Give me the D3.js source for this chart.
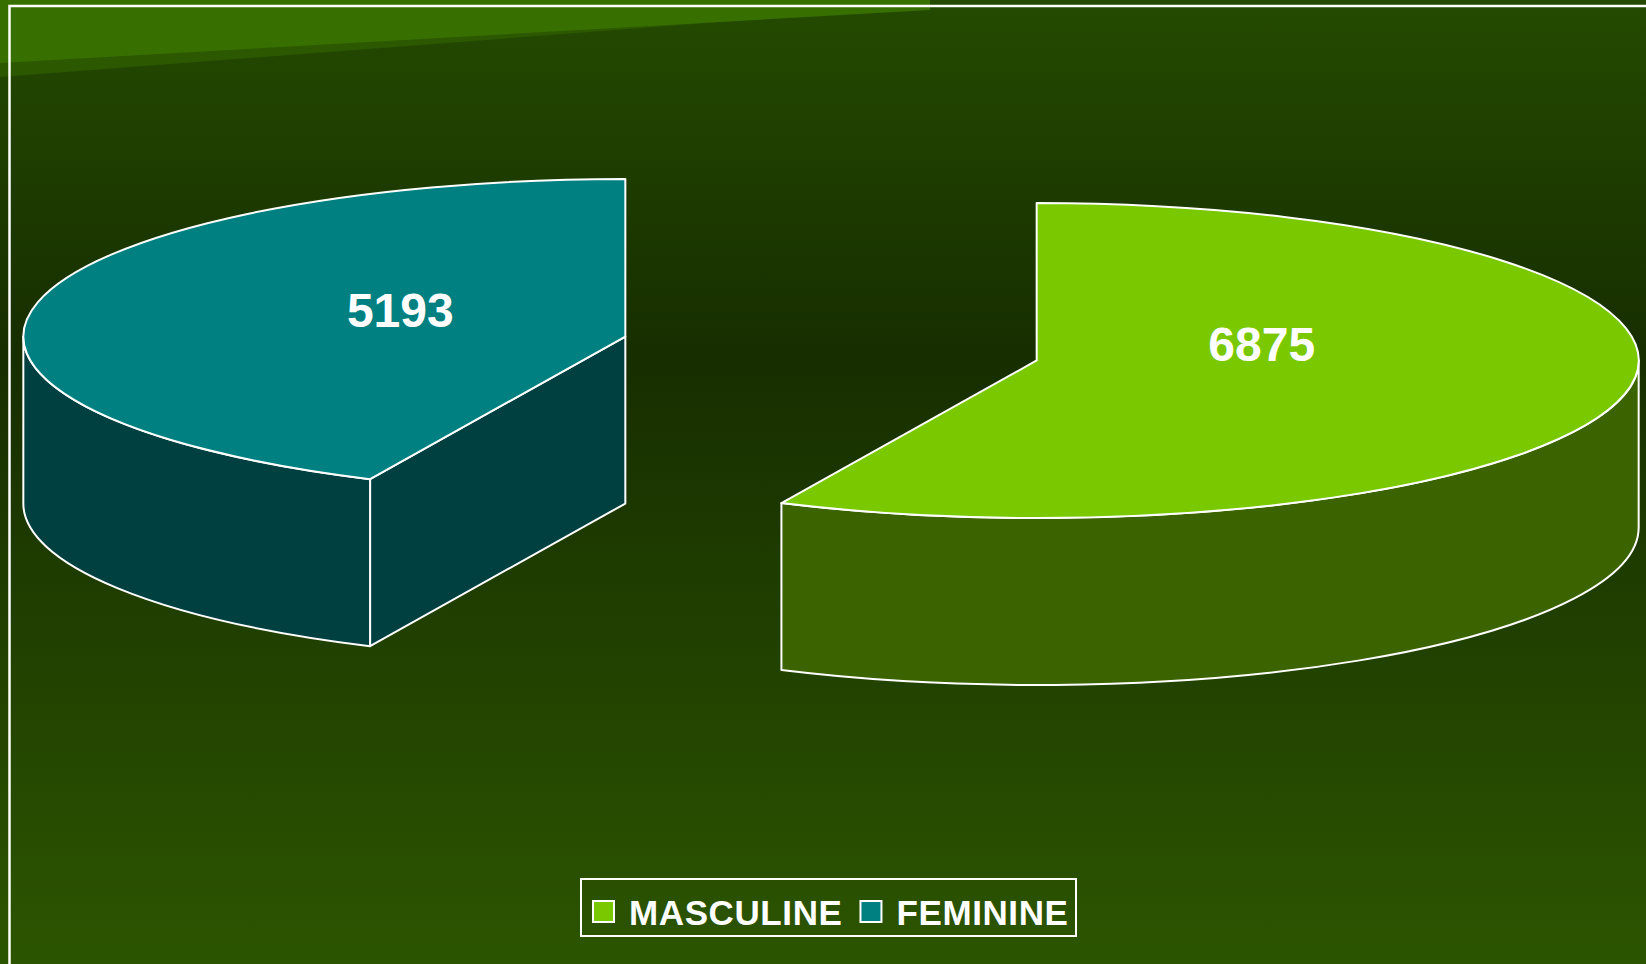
<!DOCTYPE html>
<html>
<head>
<meta charset="utf-8">
<script src="https://cdn.jsdelivr.net/npm/d3@7"></script>
<style>
  html, body { margin: 0; padding: 0; background: #1d3a00; overflow: hidden; }
  svg { display: block; }
</style>
</head>
<body>
<div id="chart"></div>
<script>
// data
const categories = ["MASCULINE", "FEMININE"];
const values = [6875, 5193];
const topColors = ["#79c800", "#008080"];
const sideColors = ["#3b6400", "#004040"];

const width = 1646, height = 964;

const dims = {
  cx: 831,
  cy: 348.5,
  rx: 602,
  ry: 157.5,
  depth: 167,
  explode: 0.35
};

const svg = d3.select("#chart")
  .append("svg")
    .attr("width", width)
    .attr("height", height);

// background
const defs = svg.append("defs");
const grad = defs.append("linearGradient")
  .attr("id", "bg")
  .attr("x1", 0).attr("y1", 0).attr("x2", 0).attr("y2", 1);
grad.append("stop").attr("offset", "0%").attr("stop-color", "#244a00");
grad.append("stop").attr("offset", "37%").attr("stop-color", "#172e00");
grad.append("stop").attr("offset", "100%").attr("stop-color", "#2c5500");

svg.append("rect")
  .attr("width", width).attr("height", height)
  .attr("fill", "url(#bg)");

// banner stripes top left
svg.append("polygon")
  .attr("points", "0,0 880,10 0,77")
  .attr("fill", "#2c5800");
svg.append("polygon")
  .attr("points", "0,0 930,0 930,10 0,63")
  .attr("fill", "#387000");

// frame line
svg.append("rect")
  .attr("x", 9.5).attr("y", 6)
  .attr("width", width + 20).attr("height", height + 20)
  .attr("fill", "none")
  .attr("stroke", "#ffffff")
  .attr("stroke-width", 2.5);

// pie layout (angles clockwise from 12 o'clock)
const pie = d3.pie().sort(null).value(d => d.value);
const arcs = pie(categories.map((c, i) => ({ name: c, value: values[i], i })));

const pt = (c, a) => [c[0] + dims.rx * Math.sin(a), c[1] - dims.ry * Math.cos(a)];

const bounds = svg.append("g");

arcs.forEach(s => {
  const i = s.data.i;
  const mid = (s.startAngle + s.endAngle) / 2;
  const c = [
    dims.cx + dims.explode * dims.rx * Math.sin(mid),
    dims.cy - dims.explode * dims.ry * Math.cos(mid)
  ];
  const g = bounds.append("g");
  const D = dims.depth;

  // radial faces, only those turned towards the viewer
  if (Math.sin(s.startAngle) < -1e-6) {
    const p = pt(c, s.startAngle);
    g.append("path")
      .attr("d", `M${c[0]},${c[1]}L${p[0]},${p[1]}L${p[0]},${p[1] + D}L${c[0]},${c[1] + D}Z`)
      .attr("fill", sideColors[i]);
  }
  if (Math.sin(s.endAngle) > 1e-6) {
    const p = pt(c, s.endAngle);
    g.append("path")
      .attr("d", `M${c[0]},${c[1]}L${p[0]},${p[1]}L${p[0]},${p[1] + D}L${c[0]},${c[1] + D}Z`)
      .attr("fill", sideColors[i]);
  }

  // outer wall, front half only (90deg .. 270deg)
  const a0 = Math.max(s.startAngle, Math.PI / 2);
  const a1 = Math.min(s.endAngle, Math.PI * 1.5);
  if (a1 > a0) {
    const p0 = pt(c, a0), p1 = pt(c, a1);
    const large = (a1 - a0) > Math.PI ? 1 : 0;
    g.append("path")
      .attr("d",
        `M${p0[0]},${p0[1]}` +
        `A${dims.rx},${dims.ry} 0 ${large} 1 ${p1[0]},${p1[1]}` +
        `L${p1[0]},${p1[1] + D}` +
        `A${dims.rx},${dims.ry} 0 ${large} 0 ${p0[0]},${p0[1] + D}Z`)
      .attr("fill", sideColors[i]);
  }

  g.selectAll("path")
    .attr("stroke", "#ffffff")
    .attr("stroke-width", 2)
    .attr("stroke-linejoin", "round");

  // top
  const q0 = pt(c, s.startAngle), q1 = pt(c, s.endAngle);
  const largeTop = (s.endAngle - s.startAngle) > Math.PI ? 1 : 0;
  g.append("path")
    .attr("d",
      `M${c[0]},${c[1]}L${q0[0]},${q0[1]}` +
      `A${dims.rx},${dims.ry} 0 ${largeTop} 1 ${q1[0]},${q1[1]}Z`)
    .attr("fill", topColors[i])
    .attr("stroke", "#ffffff")
    .attr("stroke-width", 2)
    .attr("stroke-linejoin", "round");

  // value label
  g.append("text")
    .attr("x", c[0] + 0.383 * dims.rx * Math.sin(mid))
    .attr("y", c[1] - 0.155 * dims.ry * Math.cos(mid) - 21)
    .attr("text-anchor", "middle")
    .attr("dominant-baseline", "central")
    .attr("font-family", "'Liberation Sans', Arial, sans-serif")
    .attr("font-weight", "bold")
    .attr("font-size", 48)
    .attr("fill", "#ffffff")
    .text(d3.format("d")(s.data.value));
});

// legend
const legend = svg.append("g");
legend.append("rect")
  .attr("x", 581).attr("y", 879)
  .attr("width", 495).attr("height", 57)
  .attr("fill", "none")
  .attr("stroke", "#ffffff")
  .attr("stroke-width", 2);

let lx = 593;
categories.forEach((name, i) => {
  legend.append("rect")
    .attr("x", lx).attr("y", 901)
    .attr("width", 21).attr("height", 21)
    .attr("fill", topColors[i])
    .attr("stroke", "#ffffff")
    .attr("stroke-width", 2);
  const t = legend.append("text")
    .attr("x", lx + 36).attr("y", 925)
    .attr("font-family", "'Liberation Sans', Arial, sans-serif")
    .attr("font-weight", "bold")
    .attr("font-size", 35)
    .attr("letter-spacing", 0.6)
    .attr("fill", "#ffffff")
    .text(name);
  lx += 36 + t.node().getComputedTextLength() + 18;
});
</script>
</body>
</html>
